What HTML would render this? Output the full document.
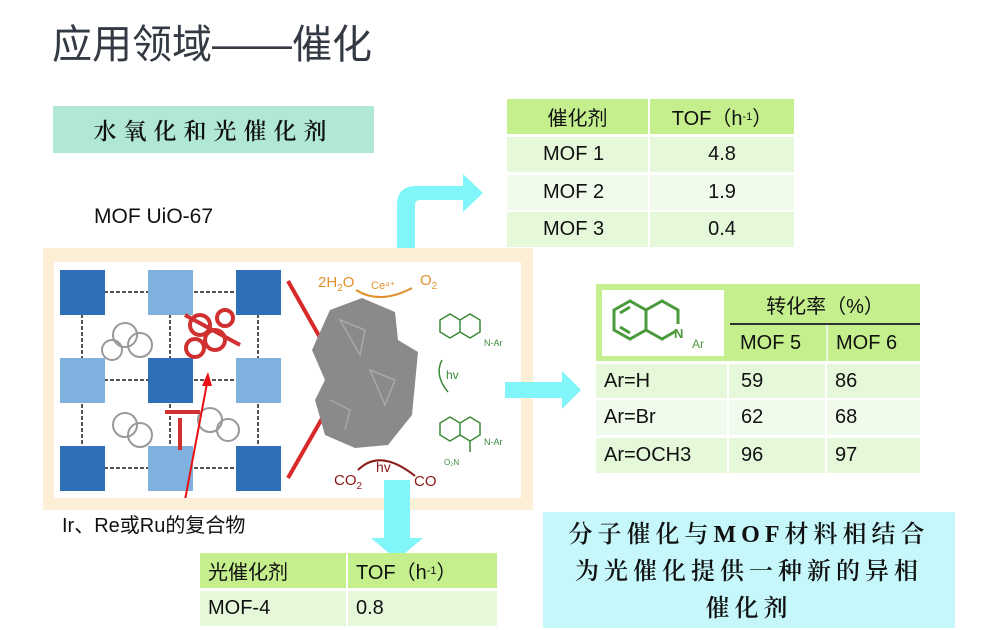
<!DOCTYPE html>
<html><head><meta charset="utf-8"><style>
*{margin:0;padding:0;box-sizing:border-box}
body{width:1000px;height:630px;background:#fff;position:relative;overflow:hidden;font-family:"Liberation Sans","Noto Sans CJK SC",sans-serif;color:#111}
.a{position:absolute}
.cell{position:absolute;display:flex;align-items:center;font-size:20px}
.h{background:#c4ef8c}
.r1{background:#e6f8da}
.r2{background:#f1fbec}
.kai{font-family:"Liberation Serif","Noto Serif CJK SC",serif}
</style></head><body>
<div class="a" style="left:52px;top:12px;font-size:40px;color:#343a44;font-family:'Liberation Sans','Noto Sans CJK SC',sans-serif">应用领域——催化</div>
<div class="a kai" style="left:53px;top:106px;width:321px;height:47px;background:#b0e8d4;font-size:23px;display:flex;align-items:center;justify-content:center;letter-spacing:7px;font-weight:600">水氧化和光催化剂</div>
<div class="a" style="left:94px;top:205px;font-size:21px">MOF UiO-67</div>

<!-- image frame -->
<div class="a" style="left:43px;top:248px;width:490px;height:262px;background:#fcefd5"></div>
<div class="a" style="left:54px;top:262px;width:467px;height:236px;background:#fff"></div>
<svg class="a" style="left:54px;top:262px" width="467" height="236" viewBox="54 262 467 236">
 <g stroke="#555" stroke-width="2" stroke-dasharray="4 2">
  <line x1="80" y1="292" x2="270" y2="292"/><line x1="80" y1="380" x2="270" y2="380"/><line x1="80" y1="468" x2="270" y2="468"/>
  <line x1="82" y1="290" x2="82" y2="470"/><line x1="170" y1="290" x2="170" y2="470"/><line x1="258" y1="290" x2="258" y2="470"/>
 </g>
 <g>
  <rect x="60" y="270" width="45" height="45" fill="#2f6fb8"/>
  <rect x="148" y="270" width="45" height="45" fill="#7fb0de"/>
  <rect x="236" y="270" width="45" height="45" fill="#2f6fb8"/>
  <rect x="60" y="358" width="45" height="45" fill="#7fb0de"/>
  <rect x="148" y="358" width="45" height="45" fill="#2f6fb8"/>
  <rect x="236" y="358" width="45" height="45" fill="#7fb0de"/>
  <rect x="60" y="446" width="45" height="45" fill="#2f6fb8"/>
  <rect x="148" y="446" width="45" height="45" fill="#7fb0de"/>
  <rect x="236" y="446" width="45" height="45" fill="#2f6fb8"/>
 </g>
 <g fill="none" stroke="#999" stroke-width="2">
  <circle cx="125" cy="335" r="12"/><circle cx="140" cy="345" r="12"/><circle cx="112" cy="350" r="10"/>
  <circle cx="125" cy="425" r="12"/><circle cx="140" cy="435" r="12"/><circle cx="210" cy="420" r="12"/><circle cx="228" cy="430" r="11"/>
 </g>
 <g fill="none" stroke="#d03030" stroke-width="4">
  <circle cx="200" cy="325" r="10"/><circle cx="215" cy="340" r="10"/><circle cx="195" cy="348" r="9"/><circle cx="225" cy="318" r="8"/>
  <line x1="185" y1="315" x2="240" y2="345"/><line x1="180" y1="418" x2="180" y2="450"/><line x1="165" y1="412" x2="200" y2="412"/>
 </g>
 <line x1="185" y1="500" x2="208" y2="378" stroke="#e81010" stroke-width="2"/>
 <polygon points="208,372 202,386 212,386" fill="#e81010"/>
 <polyline points="288,281 344,380 288,478" fill="none" stroke="#d82828" stroke-width="4"/>
 <path d="M330 310 L362 298 L395 312 L398 340 L418 352 L412 415 L388 445 L355 448 L325 435 L315 400 L325 380 L312 350 Z" fill="#8a8a8a"/>
 <g stroke="#a8a8a8" stroke-width="1.5" fill="none"><path d="M340 320 L365 330 L360 355 Z M370 370 L395 380 L385 405 Z M330 400 L350 410 L345 430"/></g>
 <text x="318" y="287" font-size="15" fill="#e0902a" font-family="Liberation Sans">2H<tspan font-size="10" dy="4">2</tspan><tspan dy="-4">O</tspan></text>
 <text x="371" y="289" font-size="11" fill="#e0902a" font-family="Liberation Sans">Ce⁴⁺</text>
 <path d="M356 290 Q380 305 412 288" fill="none" stroke="#e0902a" stroke-width="2"/>
 <text x="420" y="285" font-size="15" fill="#e0902a" font-family="Liberation Sans">O<tspan font-size="10" dy="4">2</tspan></text>
 <text x="334" y="485" font-size="15" fill="#8a1a1a" font-family="Liberation Sans">CO<tspan font-size="10" dy="4">2</tspan></text>
 <text x="376" y="472" font-size="14" fill="#8a1a1a" font-family="Liberation Sans">hv</text>
 <path d="M358 470 Q380 448 415 476" fill="none" stroke="#8a1a1a" stroke-width="2"/>
 <text x="414" y="486" font-size="15" fill="#8a1a1a" font-family="Liberation Sans">CO</text>
 <g fill="none" stroke="#3a8a3a" stroke-width="1.5">
  <polygon points="440,320 450,314 460,320 460,332 450,338 440,332"/><path d="M460,320 L470,314 L480,320 L480,332 L470,338 L460,332"/>
  <polygon points="440,423 450,417 460,423 460,435 450,441 440,435"/><path d="M460,423 L470,417 L480,423 L480,435 L470,441 L460,435 M470,441 L470,452"/>
  <path d="M442 360 Q434 375 448 392"/>
 </g>
 <text x="484" y="346" font-size="9" fill="#3a8a3a">N-Ar</text>
 <text x="446" y="379" font-size="12" fill="#3a8a3a">hv</text>
 <text x="484" y="445" font-size="9" fill="#3a8a3a">N-Ar</text>
 <text x="444" y="465" font-size="8" fill="#3a8a3a">O₂N</text>
</svg>
<div class="a" style="left:62px;top:509px;font-size:20px">Ir、Re或Ru的复合物</div>

<!-- arrows -->
<svg class="a" style="left:0;top:0" width="1000" height="630">
 <path d="M397 248 L397 205 Q397 186 416 186 L463 186 L463 174 L483 193 L463 212 L463 200 L420 200 Q415 200 415 205 L415 248 Z" fill="#80f6fb"/>
 <polygon points="505,382 562,382 562,371 581,390 562,409 562,398 505,398" fill="#80f6fb"/>
 <polygon points="384,480 410,480 410,538 423,538 397,560 371,538 384,538" fill="#80f6fb"/>
</svg>

<!-- top table -->
<div class="cell h" style="left:507px;top:99px;width:141px;height:35px;justify-content:center">催化剂</div>
<div class="cell h" style="left:650px;top:99px;width:144px;height:35px;justify-content:center">TOF（h<sup style="font-size:11px">-1</sup>）</div>
<div class="cell r1" style="left:507px;top:137px;width:141px;height:35px;padding-left:36px">MOF 1</div>
<div class="cell r1" style="left:650px;top:137px;width:144px;height:35px;justify-content:center">4.8</div>
<div class="cell r2" style="left:507px;top:175px;width:141px;height:35px;padding-left:36px">MOF 2</div>
<div class="cell r2" style="left:650px;top:175px;width:144px;height:35px;justify-content:center">1.9</div>
<div class="cell r1" style="left:507px;top:212px;width:141px;height:35px;padding-left:36px">MOF 3</div>
<div class="cell r1" style="left:650px;top:212px;width:144px;height:35px;justify-content:center">0.4</div>

<!-- right table -->
<div class="a h" style="left:596px;top:284px;width:324px;height:77px"></div>
<div class="a" style="left:602px;top:290px;width:122px;height:66px;background:#fff"></div>
<svg class="a" style="left:602px;top:290px" width="122" height="66">
 <g fill="none" stroke="#4a9a3a" stroke-width="3">
  <polygon points="12,20 28,11 44,20 44,40 28,49 12,40"/>
  <path d="M44,20 L60,11 L76,20 L76,34 M44,40 L60,49 L74,41"/>
  <path d="M18 23 L28 17 M18 37 L28 43"/>
 </g>
 <text x="72" y="48" font-size="13" font-weight="bold" fill="#4a9a3a">N</text>
 <text x="90" y="58" font-size="12" fill="#4a9a3a">Ar</text>
</svg>
<div class="cell" style="left:730px;top:285px;width:190px;height:38px;justify-content:center">转化率（%）</div>
<div class="a" style="left:730px;top:323px;width:190px;height:2px;background:#333"></div>
<div class="cell" style="left:730px;top:325px;width:96px;height:36px;padding-left:10px">MOF 5</div>
<div class="a" style="left:826px;top:325px;width:2px;height:36px;background:#e8f8e0"></div>
<div class="cell" style="left:828px;top:325px;width:92px;height:36px;padding-left:8px">MOF 6</div>
<div class="cell r1" style="left:596px;top:364px;width:131px;height:34px;padding-left:8px">Ar=H</div>
<div class="cell r1" style="left:729px;top:364px;width:96px;height:34px;padding-left:12px">59</div>
<div class="cell r1" style="left:827px;top:364px;width:93px;height:34px;padding-left:8px">86</div>
<div class="cell r2" style="left:596px;top:400px;width:131px;height:35px;padding-left:8px">Ar=Br</div>
<div class="cell r2" style="left:729px;top:400px;width:96px;height:35px;padding-left:12px">62</div>
<div class="cell r2" style="left:827px;top:400px;width:93px;height:35px;padding-left:8px">68</div>
<div class="cell r1" style="left:596px;top:438px;width:131px;height:35px;padding-left:8px">Ar=OCH3</div>
<div class="cell r1" style="left:729px;top:438px;width:96px;height:35px;padding-left:12px">96</div>
<div class="cell r1" style="left:827px;top:438px;width:93px;height:35px;padding-left:8px">97</div>

<!-- bottom table -->
<div class="cell h" style="left:200px;top:553px;width:146px;height:35px;padding-left:8px">光催化剂</div>
<div class="cell h" style="left:348px;top:553px;width:149px;height:35px;padding-left:8px">TOF（h<sup style="font-size:11px">-1</sup>）</div>
<div class="cell r1" style="left:200px;top:591px;width:146px;height:35px;padding-left:8px">MOF-4</div>
<div class="cell r1" style="left:348px;top:591px;width:149px;height:35px;padding-left:8px">0.8</div>

<div class="a kai" style="left:543px;top:512px;width:412px;height:116px;background:#c6f7fa;font-size:24px;font-weight:600;text-align:center;line-height:37px;padding-top:5px;letter-spacing:5px">分子催化与MOF材料相结合<br>为光催化提供一种新的异相<br>催化剂</div>
</body></html>
